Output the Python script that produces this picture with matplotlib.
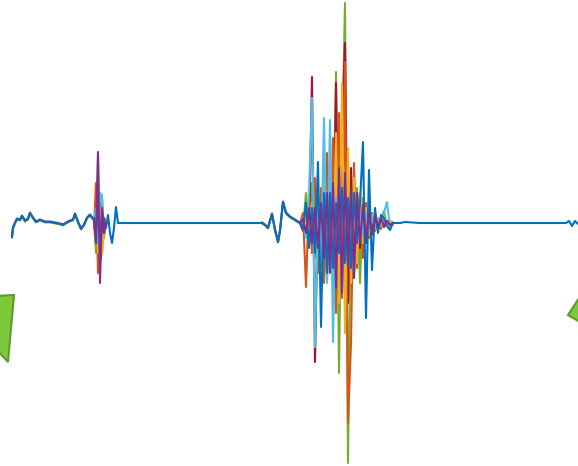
import matplotlib
matplotlib.use('Agg')
import matplotlib.pyplot as plt
import matplotlib.transforms as mtransforms
from matplotlib.patches import Polygon
import numpy as np

# quiet trace before / between / after the bursts
pre_x = [12, 13, 15, 17, 20, 22, 25, 28, 30, 33, 36, 40, 45, 50, 55, 60, 63, 66, 70, 73, 75, 78, 81, 84, 87, 90, 93]
pre_y = [-14, -5, 0, 4, 3, 7, 2, 4, 10, 5, 1, 3, 1, 1, 0, -1, -2, 0, 2, 3, 9, 1, -6, -2, 5, 8, 4]
mid_x = [120, 200, 262, 265, 268, 270, 272, 275, 278, 280, 283, 286, 290, 295, 298]
mid_y = [0, 0, 0, -2, -5, 2, 9, -7, -19, -8, 21, 10, 6, 3, 1]
post_x = [396, 400, 405, 420, 500, 560, 566, 569, 572, 575, 578, 600]
post_y = [0, 0, 1, 0, 0, 0, 0, 2, -3, 2, -1, 0]

# first (small) burst
b1_x = [94, 96, 98, 100, 102, 104, 106, 108, 110, 112, 114, 116, 118]
b1_blue = [5, -10, 20, -25, 10, 3, -5, 8, -10, -20, -5, 16, 0]
b1_short_x = [94, 96, 98, 100, 102, 104, 106]
b1_purple = [3, -20, 71, -60, 15, -10, 0]
b1_orange = [-5, 40, -50, 20, -30, 5, 0]
b1_green = [2, -30, 68, -45, 25, -15, 0]
b1_cyan = [0, 15, -20, 30, 28, -10, 0]
b1_red = [0, -15, 25, -40, -20, 5, 0]
b1_yellow = [-3, 10, -30, 15, -32, -8, 0]

# second (large) burst, sampled every 3 units from 300
b2_x = np.arange(300, 394, 3)
b2_blue = [1, -6, 20, -25, 15, -30, 61, -104, 30, -50, 30, -45, 20, -30, 35, -40,
           25, -45, 30, -20, 20, 81, -95, 53, -47, 15, -10, 8, 5, -3, -7, 0]
b2_cyan = [0, 5, -15, 30, 125, -124, 20, -40, 105, -60, 103, -119, 25, -15, 30, -20,
           10, -25, 15, -10, 8, -12, 10, -5, 6, -4, 3, -2, 10, 21, -5, 0]
b2_red = [0, -8, 12, -20, 146, -139, 25, -35, 40, -55, 60, -45, 140, -70, 90, 180,
          -80, 55, -40, 30, -25, 15, -20, 10, -8, 6, -5, 3, -4, 2, -2, 0]
b2_orange = [0, 10, -64, 25, -30, 45, -50, 35, -60, 70, -40, 85, -90, 110, -75, 161,
             -200, -120, 60, -45, 30, -35, 20, -15, 10, -8, 5, -6, 4, -3, 2, 0]
b2_green = [0, -5, 30, -20, 40, -35, 25, -45, 55, -30, 40, -60, 151, -150, 70, 220,
            -240, 45, -55, 35, -60, 25, -20, 15, -10, 8, -6, 4, 12, -3, 2, 0]
b2_purple = [0, 4, -10, 15, -20, 15, -25, 20, -35, 30, -50, 40, -65, 55, -70, 50,
             -45, 35, -55, 30, -20, 18, -15, 10, -12, 6, -4, 5, -3, 2, -2, 0]
b2_yellow = [0, -3, 8, -12, 20, -30, 35, -25, 45, -55, 65, -50, 90, -80, 140, -110,
             75, -60, 45, -40, 30, -20, 15, -12, 8, -6, 5, -3, 6, -4, 2, 0]

# green arrow shapes at the edges
arrow_left = [(-5, -73), (14, -72), (8, -139), (-5, -125)]
arrow_right = [(568, -92), (585, -66), (585, -102)]

c_blue = '#0072BD'
c_orange = '#D95319'
c_yellow = '#EDB120'
c_purple = '#7E2F8E'
c_green = '#77AC30'
c_cyan = '#4DBEEE'
c_red = '#A2142F'

fig = plt.figure(figsize=(5.78, 4.66), dpi=100)
ax = fig.add_axes([0, 0, 1, 1])
ax.axis('off')
lw = 1.5

# thin coloured fringes around the wiggly parts of the quiet trace
for col, dy in [(c_yellow, -0.5), (c_purple, 0.5)]:
    tr = ax.transData + mtransforms.ScaledTranslation(0, dy / 100, fig.dpi_scale_trans)
    ax.plot(pre_x, pre_y, color=col, lw=lw, transform=tr)
    ax.plot(mid_x[2:], mid_y[2:], color=col, lw=lw, transform=tr)

# bursts behind the blue trace
for col, s1, s2 in [(c_green, b1_green, b2_green),
                    (c_red, b1_red, b2_red),
                    (c_orange, b1_orange, b2_orange),
                    (c_yellow, b1_yellow, b2_yellow),
                    (c_cyan, b1_cyan, b2_cyan)]:
    ax.plot(b1_short_x, s1, color=col, lw=lw)
    ax.plot(b2_x, s2, color=col, lw=lw)

# main blue trace
blue_x = pre_x + b1_x + mid_x + list(b2_x) + post_x
blue_y = pre_y + b1_blue + mid_y + b2_blue + post_y
ax.plot(blue_x, blue_y, color=c_blue, lw=lw)

# purple in front
ax.plot(b1_short_x, b1_purple, color=c_purple, lw=lw)
ax.plot(b2_x, b2_purple, color=c_purple, lw=lw)

for pts in [arrow_left, arrow_right]:
    ax.add_patch(Polygon(pts, closed=True, facecolor='#7DC93C', edgecolor='#5E9A2C', lw=1.5))

ax.set_xlim(0, 578)
ax.set_ylim(-243, 223)

plt.savefig('out.png', dpi=100)
